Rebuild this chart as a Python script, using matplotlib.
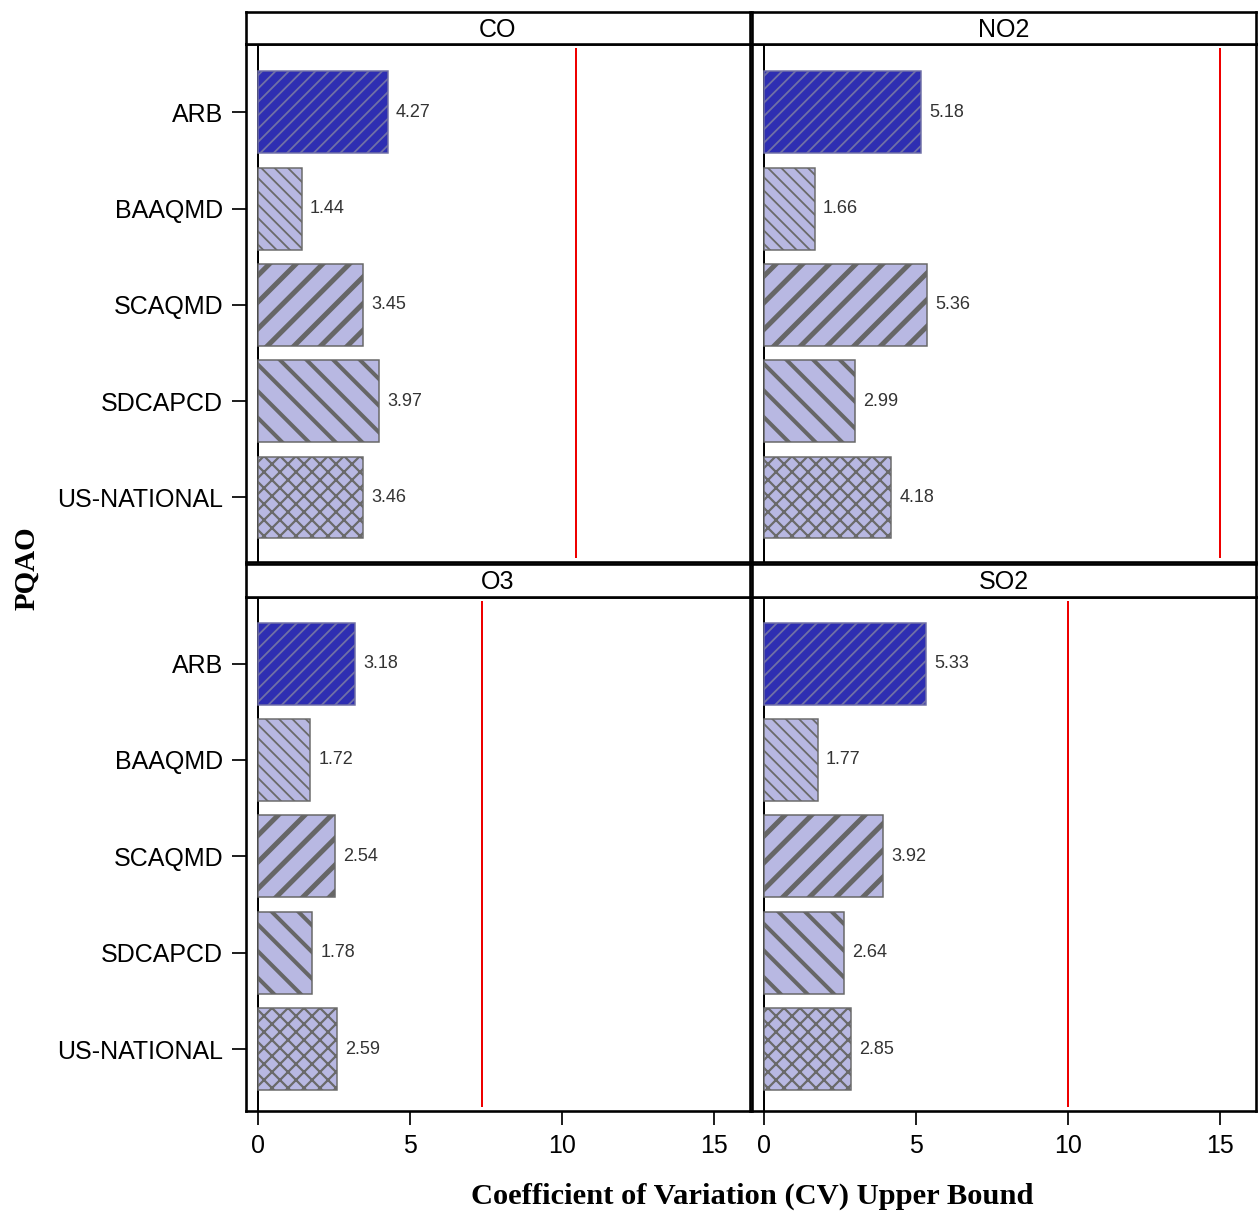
import matplotlib.pyplot as plt
import numpy as np

DPI = 240
W, H = 1259, 1216


def px(v):
    # pixels -> points at this dpi
    return v * 72 / DPI


def rect(x, y, w, h):
    return [x / W, 1 - (y + h) / H, w / W, h / H]


pqao = ["ARB", "BAAQMD", "SCAQMD", "SDCAPCD", "US-NATIONAL"]
pollutants = ["CO", "NO2", "O3", "SO2"]
cv_co = [4.27, 1.44, 3.45, 3.97, 3.46]
cv_no2 = [5.18, 1.66, 5.36, 2.99, 4.18]
cv_o3 = [3.18, 1.72, 2.54, 1.78, 2.59]
cv_so2 = [5.33, 1.77, 3.92, 2.64, 2.85]
cv_limit = [10.46, 15.0, 7.37, 10.0]
xticks = [0, 5, 10, 15]

fills = ["#2e2eb2", "#b8b8e2", "#b8b8e2", "#b8b8e2", "#b8b8e2"]
edges = ["#7070a6", "#6a6a6a", "#666666", "#666666", "#6a6a6a"]
hatches = ["/" * 6, "\\" * 6, "///", "\\\\\\", "x" * 5]
hatch_lw = [px(1.8), px(1.8), px(5.0), px(4.0), px(2.2)]

plt.rcParams["font.family"] = ["Liberation Sans", "DejaVu Sans"]

fig = plt.figure(figsize=(W / DPI, H / DPI), dpi=DPI)

values = [cv_co, cv_no2, cv_o3, cv_so2]
panel_x = [246, 752, 246, 752]
panel_y = [(44, 518), (44, 518), (597, 514), (597, 514)]
strip_y = [(12, 32), (12, 32), (564, 33), (564, 33)]

y = np.arange(len(pqao))
for k, name in enumerate(pollutants):
    x0 = panel_x[k]
    py, ph = panel_y[k]
    ax = fig.add_axes(rect(x0, py, 504, ph))
    for i in range(len(pqao)):
        with plt.rc_context({"hatch.linewidth": hatch_lw[i]}):
            ax.barh(y[i], values[k][i], height=0.85, color=fills[i],
                    edgecolor=edges[i], hatch=hatches[i], linewidth=px(1.5),
                    zorder=2)
        ax.text(values[k][i] + 0.27, y[i], f"{values[k][i]:.2f}",
                va="center", ha="left", fontsize=px(18), color="#333333")
    ax.axvline(0, color="black", lw=px(2), zorder=1)
    ax.axvline(cv_limit[k], ymin=0.01, ymax=0.99, color="#ee0000",
               lw=px(2), zorder=1)
    ax.set_xlim(-0.4, 16.2)
    if k < 2:
        ax.set_ylim(4.67, -0.71)
    else:
        ax.set_ylim(4.64, -0.69)
    for s in ax.spines.values():
        s.set_linewidth(px(2.6))
        s.set_color("black")
    ax.tick_params(direction="out", length=px(14), width=px(2),
                   labelsize=px(25), pad=px(9), color="#222222")
    if k % 2 == 0:
        ax.set_yticks(y)
        ax.set_yticklabels(pqao)
    else:
        ax.set_yticks([])
    if k >= 2:
        ax.set_xticks(xticks)
    else:
        ax.set_xticks([])

    sy, sh = strip_y[k]
    st = fig.add_axes(rect(x0, sy, 504, sh))
    st.set_xticks([])
    st.set_yticks([])
    for s in st.spines.values():
        s.set_linewidth(px(2.6))
        s.set_color("black")
    st.text(0.5, 0.45, name, ha="center", va="center", fontsize=px(25),
            transform=st.transAxes)

fig.text(752 / W, 1 - 1196 / H, "Coefficient of Variation (CV) Upper Bound",
         ha="center", va="center", fontsize=px(30.5), fontweight="bold",
         family="Liberation Serif")
fig.text(27 / W, 1 - 568 / H, "PQAO", ha="center", va="center",
         rotation=90, fontsize=px(29), fontweight="bold",
         family="Liberation Serif")

fig.savefig("out.png", dpi=DPI)
